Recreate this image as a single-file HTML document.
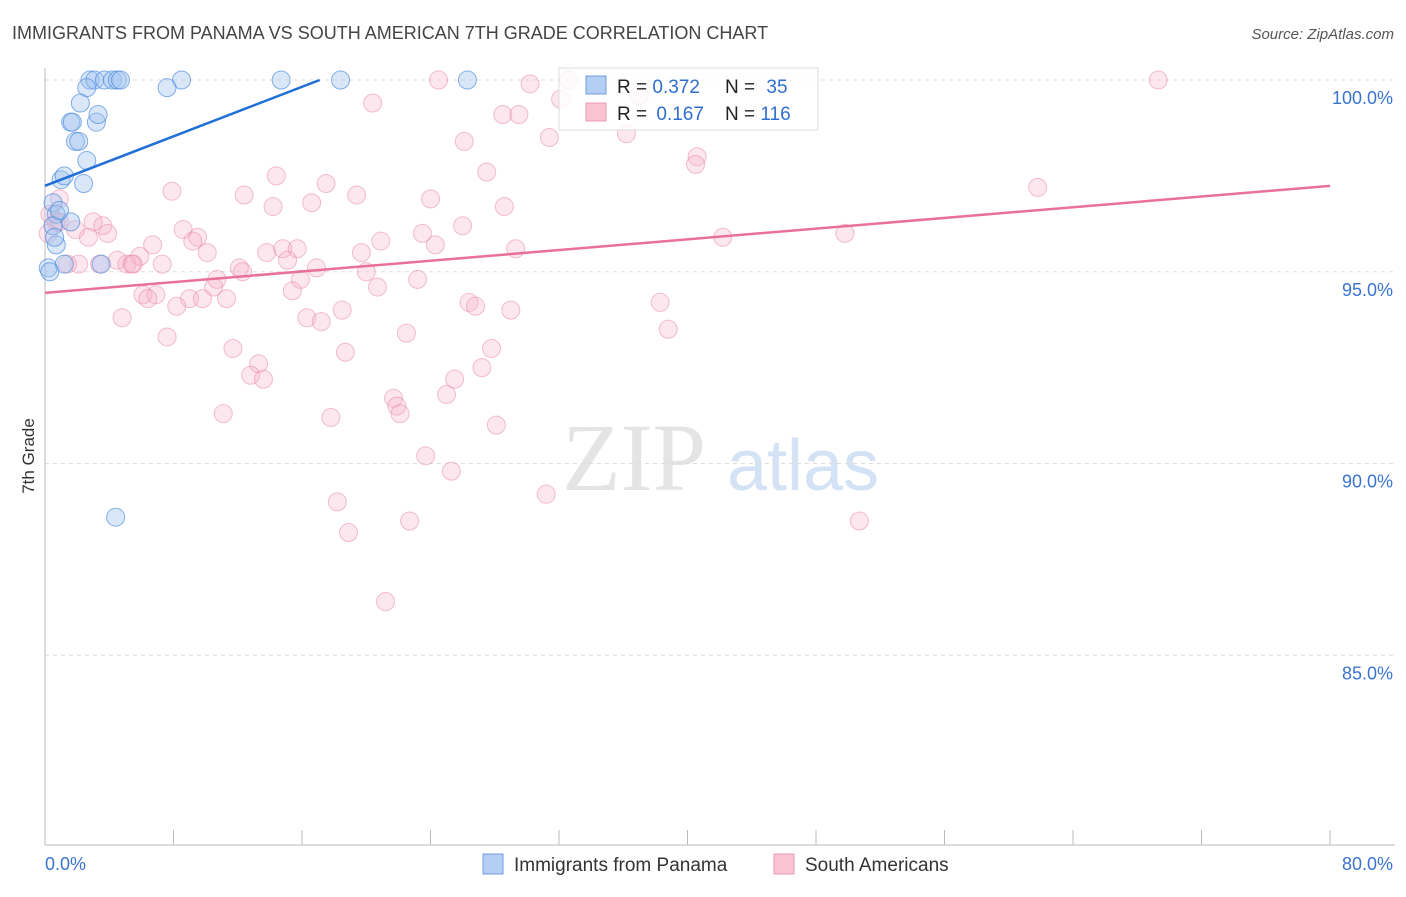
<!DOCTYPE html>
<html><head><meta charset="utf-8"><style>
body{margin:0;background:#fff;font-family:"Liberation Sans",sans-serif;}
</style></head><body>
<svg id="chart" width="1406" height="892" xmlns="http://www.w3.org/2000/svg" font-family="Liberation Sans, sans-serif">
<text x="12" y="39" font-size="18" fill="#444">IMMIGRANTS FROM PANAMA VS SOUTH AMERICAN 7TH GRADE CORRELATION CHART</text>
<text x="1394" y="39" font-size="15" fill="#555" text-anchor="end" font-style="italic">Source: ZipAtlas.com</text>
<g>
<text x="634" y="490" font-size="96" fill="#e4e4e4" text-anchor="middle" font-family="Liberation Serif, serif">ZIP</text>
<text x="803" y="490" font-size="72" fill="#d3e2f4" text-anchor="middle">atlas</text>
</g>
<g id="grid"></g>
<g id="axes"></g>
<g id="points"></g>
<g id="trends"></g>
<text transform="translate(34,456) rotate(-90)" font-size="17" fill="#333" text-anchor="middle">7th Grade</text>
<g>
<rect x="559" y="68" width="259" height="62" fill="#fff" fill-opacity="0.8" stroke="#ddd"/>
<rect x="586" y="76" width="20" height="18" fill="#b3cff3" stroke="#6f9fe0"/>
<rect x="586" y="103" width="20" height="18" fill="#f9c3d3" stroke="#ec97b2"/>
<text x="617" y="93" font-size="19" fill="#222">R = <tspan fill="#2f6fd0">0.372</tspan></text>
<text x="725" y="93" font-size="19" fill="#222">N = <tspan fill="#2f6fd0" dx="6">35</tspan></text>
<text x="617" y="120" font-size="19" fill="#222">R = <tspan fill="#2f6fd0" dx="4">0.167</tspan></text>
<text x="725" y="120" font-size="19" fill="#222">N = <tspan fill="#2f6fd0">116</tspan></text>
</g>
<g>
<rect x="483" y="854" width="20" height="20" fill="#b3cff3" stroke="#6f9fe0"/>
<text x="514" y="871" font-size="19" fill="#333">Immigrants from Panama</text>
<rect x="774" y="854" width="20" height="20" fill="#f9c3d3" stroke="#ec97b2"/>
<text x="805" y="871" font-size="19" fill="#333">South Americans</text>
</g>
</svg>
<script>
const yTicks=[85,90,95,100];
const yTickLabels=["85.0%","90.0%","95.0%","100.0%"];
const xTickCount=10;
const xLabels=["0.0%","80.0%"];
const blueX=[2.8,3.1,3.7,4.2,4.5,4.7,8.5,14.7,18.4,26.3,7.6,2.6,2.2,1.6,1.7,3.2,3.3,1.9,2.1,2.6,1.0,1.2,2.4,0.5,0.7,1.6,0.5,0.7,0.2,1.2,3.5,4.4,0.3,0.9,0.6];
const blueY=[100,100,100,100,100,100,100,100,100,100,99.8,99.8,99.4,98.9,98.9,98.9,99.1,98.4,98.4,97.9,97.4,97.5,97.3,96.8,96.5,96.3,96.2,95.7,95.1,95.2,95.2,88.6,95.0,96.6,95.9];
const pinkX=[24.5,30.2,32.6,69.3,37.0,32.1,20.4,28.5,29.5,26.1,31.4,36.2,40.6,40.5,27.5,14.4,17.5,7.9,12.4,19.4,24.0,61.8,28.6,14.2,16.6,26.0,23.5,0.3,0.9,3.0,3.6,2.7,3.9,8.6,9.5,9.2,6.7,20.9,24.3,29.3,42.2,49.8,13.8,14.8,15.7,10.1,19.7,5.9,4.5,5.1,5.5,7.3,15.1,16.9,12.1,12.3,20.0,10.7,15.9,10.5,23.2,20.7,6.1,6.9,15.4,9.0,9.8,11.3,8.2,6.4,26.4,26.8,38.3,18.5,29.0,16.3,17.2,4.8,38.8,7.6,22.5,11.7,13.3,18.7,27.8,27.2,12.8,13.6,25.5,25.0,21.7,21.9,22.1,11.1,17.8,28.1,23.7,25.3,18.2,31.2,22.7,50.7,18.9,21.2,2.1,1.4,3.4,5.4,0.7,1.9,0.2,0.9];
const pinkY=[100,99.9,100,100,99.6,99.5,99.4,99.1,99.1,98.4,98.5,98.6,98.0,97.8,97.6,97.5,97.3,97.1,97.0,97.0,96.9,97.2,96.7,96.7,96.8,96.2,96.0,96.5,96.3,96.3,96.2,95.9,96.0,96.1,95.9,95.8,95.7,95.8,95.7,95.6,95.9,96.0,95.5,95.6,95.6,95.5,95.5,95.4,95.3,95.2,95.2,95.2,95.3,95.1,95.1,95.0,95.0,94.8,94.8,94.6,94.8,94.6,94.4,94.4,94.5,94.3,94.3,94.3,94.1,94.3,94.2,94.1,94.2,94.0,94.0,93.8,93.7,93.8,93.5,93.3,93.4,93.0,92.6,92.9,93.0,92.5,92.3,92.2,92.2,91.8,91.7,91.5,91.3,91.3,91.2,91.0,90.2,89.8,89.0,89.2,88.5,88.5,88.2,86.4,95.2,95.2,95.2,95.2,96.3,96.1,96.0,96.9];
const blueTrend=[0,97.24,17.1,100];
const pinkTrend=[0,94.45,80,97.24];
const NS="http://www.w3.org/2000/svg";
const X0=45,X1=1330,XMAX=80,Y100=80,PXPER=38.35;
function sx(v){return X0+v/XMAX*(X1-X0);}
function sy(v){return Y100+(100-v)*PXPER;}
function mk(tag,attrs,parent){const e=document.createElementNS(NS,tag);for(const k in attrs)e.setAttribute(k,attrs[k]);parent.appendChild(e);return e;}
const grid=document.getElementById('grid'),axes=document.getElementById('axes'),pts=document.getElementById('points'),tr=document.getElementById('trends');
yTicks.forEach((t,i)=>{
 const l=mk('line',{x1:X0,x2:1395,y1:sy(t),y2:sy(t),stroke:'#ddd','stroke-dasharray':'4,4'},grid);
 
 
 const tx=mk('text',{x:1393,y:sy(t)+24,'font-size':18,fill:'#3b74cf','text-anchor':'end'},axes);
 tx.textContent=yTickLabels[i];
 
 
});
const ya=mk('line',{x1:X0,x2:X0,y1:68,y2:845,stroke:'#bbb'},axes);


const xa=mk('line',{x1:X0,x2:1395,y1:845,y2:845,stroke:'#bbb'},axes);


for(let i=0;i<=xTickCount;i++){
 const v=i*XMAX/xTickCount;
 const t=mk('line',{x1:sx(v),x2:sx(v),y1:830,y2:845,stroke:'#bbb'},axes);
 
 
}
const xl0=mk('text',{x:45,y:870,'font-size':18,fill:'#3b74cf'},axes);xl0.textContent=xLabels[0];


const xl1=mk('text',{x:1393,y:870,'font-size':18,fill:'#3b74cf','text-anchor':'end'},axes);xl1.textContent=xLabels[1];


pinkX.forEach((x,i)=>{
 const c=mk('circle',{cx:sx(x),cy:sy(pinkY[i]),r:9,fill:'rgba(245,175,198,0.3)',stroke:'rgba(232,130,162,0.5)','stroke-width':1},pts);
 
 
});
blueX.forEach((x,i)=>{
 const c=mk('circle',{cx:sx(x),cy:sy(blueY[i]),r:9,fill:'rgba(160,195,240,0.4)',stroke:'rgba(70,135,220,0.65)','stroke-width':1},pts);
 
 
});
const bl=mk('line',{x1:sx(blueTrend[0]),y1:sy(blueTrend[1]),x2:sx(blueTrend[2]),y2:sy(blueTrend[3]),stroke:'#1f6fd6','stroke-width':2.5},tr);


const pl=mk('line',{x1:sx(pinkTrend[0]),y1:sy(pinkTrend[1]),x2:sx(pinkTrend[2]),y2:sy(pinkTrend[3]),stroke:'#e8709a','stroke-width':2.5},tr);


</script>
</body></html>
